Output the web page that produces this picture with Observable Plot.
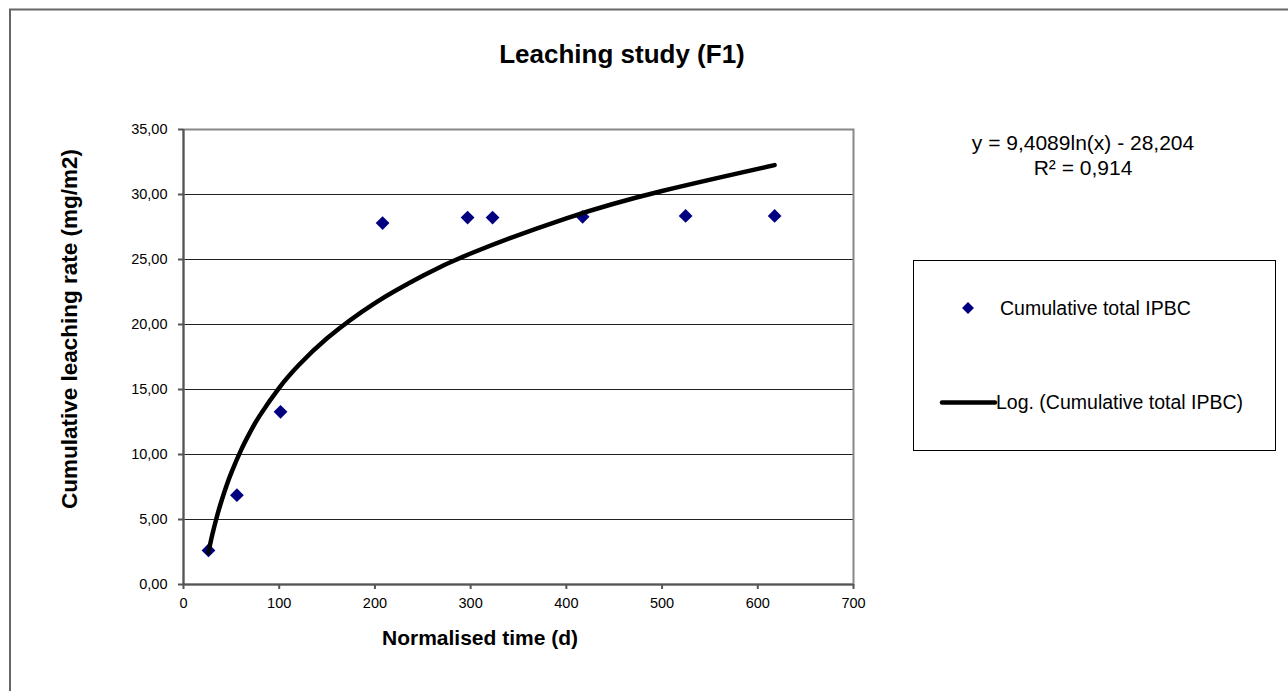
<!DOCTYPE html>
<html>
<head>
<meta charset="utf-8">
<script src="https://cdn.jsdelivr.net/npm/d3@7"></script>
<script src="https://cdn.jsdelivr.net/npm/@observablehq/plot@0.6"></script>
<style>
  html, body { margin: 0; padding: 0; background: #fff; overflow: hidden; }
  #chart svg { display: block; }
</style>
</head>
<body>
<div id="chart"></div>
<script>
const timeD = [26.1, 55.8, 101.4, 208, 296.8, 322.9, 417, 524.6, 617.6];
const cumIPBC = [2.62, 6.87, 13.28, 27.8, 28.23, 28.23, 28.28, 28.35, 28.35];

// Log trend line samples
const trendX = [26, 30, 35, 40, 45, 50, 60, 70, 80, 100, 120, 150, 200, 250, 300, 400, 500, 617.6];
const trendY = [2.45, 3.80, 5.25, 6.50, 7.61, 8.60, 10.32, 11.77, 13.03, 15.13, 16.84, 18.94, 21.65, 23.75, 25.46, 28.17, 30.27, 32.26];

// Axis ticks
const xTicks = [0, 100, 200, 300, 400, 500, 600, 700];
const yTicks = [0, 5, 10, 15, 20, 25, 30, 35];
const gridY = [5, 10, 15, 20, 25, 30];

// Texts
const titleText = "Leaching study (F1)";
const xLabel = "Normalised time (d)";
const yLabel = "Cumulative leaching rate (mg/m2)";
const eqLine1 = "y = 9,4089ln(x) - 28,204";
const eqLine2 = "R² = 0,914";
const legendPoints = "Cumulative total IPBC";
const legendTrend = "Log. (Cumulative total IPBC)";

const points = timeD.map((t, i) => ({t, v: cumIPBC[i]}));
const trend = trendX.map((t, i) => ({t, v: trendY[i]}));

const FONT = "'Liberation Sans', Arial, Helvetica, sans-serif";

const chart = Plot.plot({
  width: 1288,
  height: 691,
  marginLeft: 183,
  marginTop: 129,
  marginRight: 435,
  marginBottom: 107,
  style: {fontFamily: FONT, fontSize: "14.5px", background: "#fff", color: "#000", overflow: "visible"},
  x: {domain: [0, 700]},
  y: {domain: [0, 35]},
  marks: [
    Plot.ruleY(gridY, {stroke: "#222", strokeWidth: 1}),
    Plot.frame({stroke: "#888", strokeWidth: 2}),
    Plot.ruleX([0], {stroke: "#555", strokeWidth: 2}),
    Plot.ruleY([0], {stroke: "#555", strokeWidth: 2}),
    Plot.axisY({ticks: yTicks, tickFormat: d => d.toFixed(2).replace(".", ","), tickSize: 5, tickPadding: 11, label: null, stroke: "#555", strokeWidth: 2, fill: "#000", fontSize: 14.5}),
    Plot.axisX({ticks: xTicks, tickFormat: d => String(d), tickSize: 5, tickPadding: 8, label: null, stroke: "#555", strokeWidth: 2, fill: "#000", fontSize: 14.5}),
    Plot.dot(points, {x: "t", y: "v", symbol: "diamond2", r: 6.2, fill: "#000080", stroke: "none"}),
    Plot.line(trend, {x: "t", y: "v", stroke: "#000", strokeWidth: 4.5, curve: "natural", strokeLinecap: "round"})
  ]
});

document.getElementById("chart").appendChild(chart);

const svg = d3.select(chart);

// Outer chart-area border (extends beyond the window)
svg.append("rect")
  .attr("x", 10).attr("y", 9.5).attr("width", 1400).attr("height", 800)
  .attr("fill", "none").attr("stroke", "#666").attr("stroke-width", 2);

// Title
svg.append("text").text(titleText)
  .attr("x", 622).attr("y", 63).attr("text-anchor", "middle")
  .attr("font-family", FONT).attr("font-weight", "bold").attr("font-size", 26);

// Axis titles
svg.append("text").text(xLabel)
  .attr("x", 480).attr("y", 645).attr("text-anchor", "middle")
  .attr("font-family", FONT).attr("font-weight", "bold").attr("font-size", 21);

svg.append("text").text(yLabel)
  .attr("transform", "translate(77,329) rotate(-90)").attr("text-anchor", "middle")
  .attr("font-family", FONT).attr("font-weight", "bold").attr("font-size", 22.5);

// Trend equation
svg.append("text").text(eqLine1)
  .attr("x", 1083).attr("y", 150).attr("text-anchor", "middle")
  .attr("font-family", FONT).attr("font-size", 21);
svg.append("text").text(eqLine2)
  .attr("x", 1083).attr("y", 175).attr("text-anchor", "middle")
  .attr("font-family", FONT).attr("font-size", 21);

// Legend
const lg = svg.append("g").attr("text-anchor", "start");
lg.append("rect")
  .attr("x", 913.5).attr("y", 260.5).attr("width", 362).attr("height", 190)
  .attr("fill", "#fff").attr("stroke", "#000").attr("stroke-width", 1);
lg.append("path")
  .attr("d", d3.symbol(d3.symbolDiamond2, 90)())
  .attr("transform", "translate(968,308)")
  .attr("fill", "#000080");
lg.append("text").text(legendPoints)
  .attr("x", 1000).attr("y", 315).attr("text-anchor", "start")
  .attr("font-family", FONT).attr("font-size", 19.5);
lg.append("line")
  .attr("x1", 942).attr("x2", 995).attr("y1", 402.5).attr("y2", 402.5)
  .attr("stroke", "#000").attr("stroke-width", 4.5).attr("stroke-linecap", "round");
lg.append("text").text(legendTrend)
  .attr("x", 996).attr("y", 408.5).attr("text-anchor", "start")
  .attr("font-family", FONT).attr("font-size", 19.5);
</script>
</body>
</html>
